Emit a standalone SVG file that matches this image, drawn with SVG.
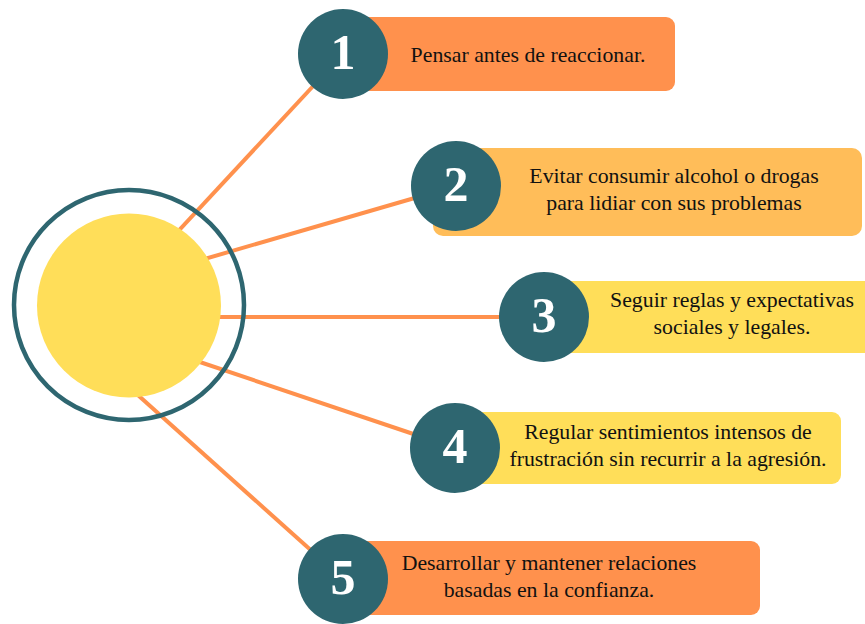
<svg xmlns="http://www.w3.org/2000/svg" width="865" height="624" viewBox="0 0 865 624">
<style>
.conn{stroke:#FF914D;stroke-width:4;fill:none;stroke-linecap:butt}
.num{fill:#2E6670}
.digit{font-family:"Liberation Serif","Times New Roman",serif;font-weight:bold;font-size:50px;fill:#FFFFFF;text-anchor:middle}
.lbl{font-family:"Liberation Serif","Times New Roman",serif;font-size:21.8px;fill:#111111;text-anchor:middle}
.orange{fill:#FF914D}
.lorange{fill:#FFBD59}
.yellow{fill:#FFDE59}
</style>
<rect width="865" height="624" fill="#FFFFFF"/>
<g id="connectors">
<line class="conn" x1="156" y1="255" x2="343" y2="54"/>
<line class="conn" x1="170" y1="269" x2="456" y2="186"/>
<line class="conn" x1="180" y1="317" x2="544" y2="317"/>
<line class="conn" x1="170" y1="352" x2="455" y2="448"/>
<line class="conn" x1="120" y1="379" x2="343" y2="579"/>
</g>
<g id="center">
<circle cx="129" cy="305" r="115" fill="none" stroke="#2E6670" stroke-width="4.5"/>
<circle cx="129" cy="305.5" r="92" class="yellow"/>
</g>
<g id="node1">
<rect class="orange" x="343" y="17" width="332" height="74" rx="9"/>
<circle class="num" cx="343" cy="54" r="45"/>
<text class="digit" x="343" y="69">1</text>
<text class="lbl" x="528" y="62">Pensar antes de reaccionar.</text>
</g>
<g id="node2">
<rect class="lorange" x="433" y="148" width="429" height="88" rx="10"/>
<circle class="num" cx="456" cy="186" r="45"/>
<text class="digit" x="456" y="201">2</text>
<text class="lbl" x="674" y="183">Evitar consumir alcohol o drogas</text>
<text class="lbl" x="674" y="210">para lidiar con sus problemas</text>
</g>
<g id="node3">
<rect class="yellow" x="544" y="281" width="336" height="72" rx="9"/>
<circle class="num" cx="544" cy="317" r="45"/>
<text class="digit" x="544" y="332">3</text>
<text class="lbl" x="732" y="306.5">Seguir reglas y expectativas</text>
<text class="lbl" x="732" y="333.5">sociales y legales.</text>
</g>
<g id="node4">
<rect class="yellow" x="455" y="412" width="386" height="72" rx="9"/>
<circle class="num" cx="455" cy="448" r="45"/>
<text class="digit" x="455" y="463">4</text>
<text class="lbl" x="668" y="438.5">Regular sentimientos intensos de</text>
<text class="lbl" x="668" y="465.5">frustración sin recurrir a la agresión.</text>
</g>
<g id="node5">
<rect class="orange" x="343" y="541" width="417" height="74" rx="9"/>
<circle class="num" cx="343" cy="579" r="45"/>
<text class="digit" x="343" y="594">5</text>
<text class="lbl" x="549" y="569.5">Desarrollar y mantener relaciones</text>
<text class="lbl" x="549" y="596.5">basadas en la confianza.</text>
</g>
</svg>
